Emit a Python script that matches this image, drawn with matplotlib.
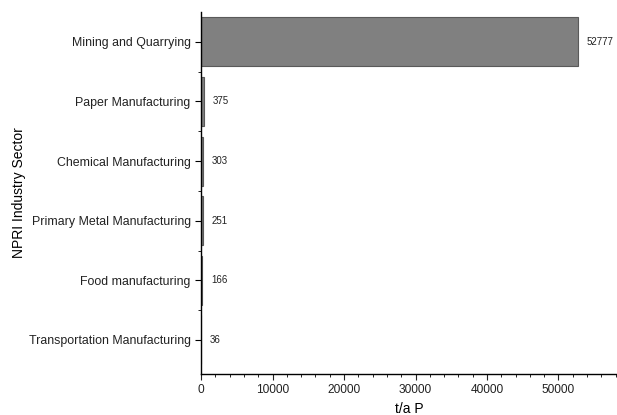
#!/usr/bin/env python3
"""Horizontal bar chart of P releases by NPRI industry sector."""

import matplotlib
matplotlib.use('Agg')
import matplotlib.pyplot as plt
from matplotlib.ticker import MultipleLocator, FixedLocator

sectors = ['Mining and Quarrying', 'Paper Manufacturing', 'Chemical Manufacturing',
           'Primary Metal Manufacturing', 'Food manufacturing',
           'Transportation Manufacturing']
values = [52777, 375, 303, 251, 166, 36]

plt.rcParams['font.family'] = ['Liberation Sans', 'DejaVu Sans']

fig = plt.figure(figsize=(6.17, 4.15), dpi=100)
ax = fig.add_axes([0.326, 0.099, 0.674, 0.872])

pos = list(range(len(sectors)))
ax.barh(pos, values, height=0.82, color='#808080', edgecolor='#5a5a5a', linewidth=0.8)

for p, v in zip(pos, values):
    ax.text(v + 1200, p, str(v), va='center', ha='left', fontsize=7, color='#222222')

ax.set_yticks(pos)
ax.set_yticklabels(sectors, fontsize=8.9, color='#222222')
ax.set_ylim(len(sectors) - 0.43, -0.5)
ax.yaxis.set_minor_locator(FixedLocator([p + 0.5 for p in pos[:-1]]))

ax.set_xlim(0, 58200)
ax.xaxis.set_major_locator(MultipleLocator(10000))
ax.xaxis.set_minor_locator(MultipleLocator(2000))
ax.tick_params(axis='x', labelsize=8.6, colors='#222222')

ax.tick_params(which='major', direction='out', length=4, width=0.8)
ax.tick_params(which='minor', direction='out', length=2, width=0.6)

for side in ['top', 'right']:
    ax.spines[side].set_visible(False)
for side in ['left', 'bottom']:
    ax.spines[side].set_linewidth(1.0)

ax.set_xlabel('t/a P', fontsize=10, labelpad=4)
ax.set_ylabel('NPRI Industry Sector', fontsize=10, labelpad=2)

plt.savefig('out.png', dpi=100)
plt.close()
